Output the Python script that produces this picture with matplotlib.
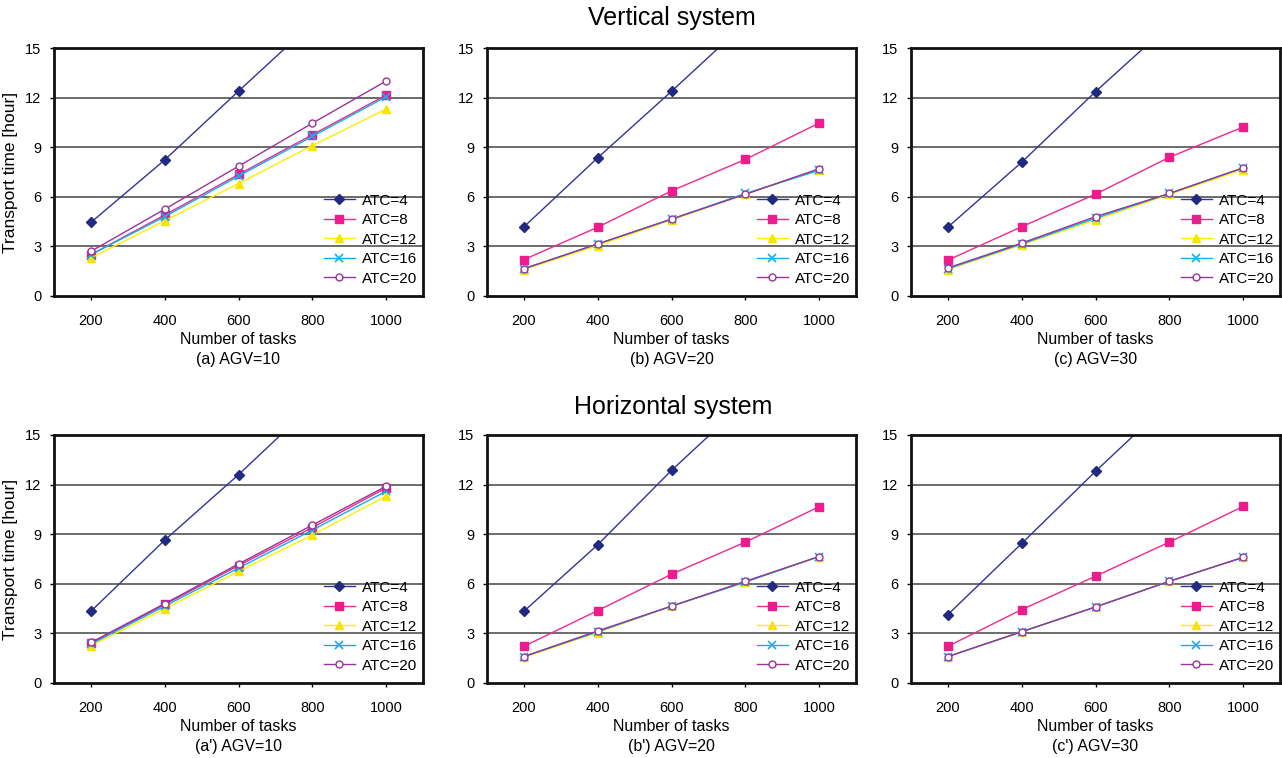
import matplotlib
matplotlib.use("Agg")
import matplotlib.pyplot as plt

plt.rcParams['font.family'] = ['Liberation Sans', 'DejaVu Sans']

# data (ATC=4 runs off the top of the axes after 600)
tasks = [200, 400, 600, 800, 1000]
atc_labels = ['ATC=4', 'ATC=8', 'ATC=12', 'ATC=16', 'ATC=20']

# vertical system
v_agv10 = [
    [4.45, 8.23, 12.39, 16.5, 20.7],
    [2.5, 4.9, 7.35, 9.75, 12.15],
    [2.3, 4.55, 6.8, 9.1, 11.3],
    [2.5, 4.8, 7.25, 9.65, 12.05],
    [2.7, 5.25, 7.85, 10.45, 13.0],
]
v_agv20 = [
    [4.18, 8.36, 12.38, 16.5, 20.6],
    [2.2, 4.16, 6.36, 8.26, 10.46],
    [1.6, 3.05, 4.6, 6.15, 7.65],
    [1.65, 3.15, 4.65, 6.2, 7.6],
    [1.65, 3.15, 4.65, 6.15, 7.7],
]
v_agv30 = [
    [4.17, 8.09, 12.36, 16.4, 20.5],
    [2.17, 4.19, 6.16, 8.39, 10.22],
    [1.6, 3.1, 4.6, 6.15, 7.65],
    [1.65, 3.15, 4.7, 6.2, 7.75],
    [1.7, 3.2, 4.8, 6.2, 7.75],
]
# horizontal system
h_agv10 = [
    [4.34, 8.64, 12.6, 16.8, 21.0],
    [2.4, 4.75, 7.1, 9.4, 11.8],
    [2.25, 4.5, 6.75, 8.95, 11.3],
    [2.35, 4.65, 6.95, 9.25, 11.6],
    [2.45, 4.8, 7.2, 9.55, 11.9],
]
h_agv20 = [
    [4.34, 8.36, 12.86, 17.0, 21.0],
    [2.22, 4.38, 6.58, 8.52, 10.66],
    [1.55, 3.05, 4.65, 6.1, 7.65],
    [1.6, 3.1, 4.65, 6.1, 7.65],
    [1.6, 3.15, 4.65, 6.15, 7.65],
]
h_agv30 = [
    [4.14, 8.44, 12.8, 17.0, 21.0],
    [2.22, 4.44, 6.46, 8.52, 10.68],
    [1.6, 3.1, 4.6, 6.15, 7.6],
    [1.6, 3.1, 4.6, 6.15, 7.6],
    [1.6, 3.1, 4.6, 6.15, 7.6],
]

captions = ['(a) AGV=10', '(b) AGV=20', '(c) AGV=30',
            "(a') AGV=10", "(b') AGV=20", "(c') AGV=30"]
panels = [v_agv10, v_agv20, v_agv30, h_agv10, h_agv20, h_agv30]

# line style per ATC series
styles = [
    dict(color='#333399', marker='D', mfc='#1f2a80', mec='#1f2a80', ms=5),
    dict(color='#ee2a8c', marker='s', mfc='#ee1b8c', mec='#ee1b8c', ms=5.5),
    dict(color='#ffee00', marker='^', mfc='#f5e600', mec='#f5e600', ms=6),
    dict(color='#10b0ee', marker='x', mfc='#10b0ee', mec='#10b0ee', ms=6, mew=1.2),
    dict(color='#993399', marker='o', mfc='white', mec='#993399', ms=5, mew=1),
]

W, H = 1282, 758
fig = plt.figure(figsize=(W / 100, H / 100), dpi=100)

lefts = [54, 487, 911]
tops = [48, 435]
aw, ah = 369, 248

for i, data in enumerate(panels):
    r, c = divmod(i, 3)
    ax = fig.add_axes([lefts[c] / W, (H - tops[r] - ah) / H, aw / W, ah / H])
    for k in range(len(atc_labels)):
        ax.plot(tasks, data[k], lw=1, label=atc_labels[k], **styles[k])

    ax.set_xlim(100, 1100)
    ax.set_ylim(0, 15)
    ax.set_xticks(tasks)
    ax.set_yticks([0, 3, 6, 9, 12, 15])
    ax.tick_params(axis='both', labelsize=10.5, length=3, width=1, direction='out')
    ax.tick_params(axis='x', pad=10)
    ax.tick_params(axis='y', pad=6)
    for y in [3, 6, 9, 12]:
        ax.axhline(y, color='#444444', lw=1.1, zorder=0)
    for sp in ax.spines.values():
        sp.set_linewidth(2)
        sp.set_color('#111111')

    ax.set_xlabel('Number of tasks\n' + captions[i], fontsize=11.5, labelpad=3,
                  linespacing=1.4)
    if c == 0:
        ax.set_ylabel('Transport time [hour]', fontsize=12.5, labelpad=5)

    ax.legend(loc='lower right', bbox_to_anchor=(1.01, 0.005), frameon=False,
              fontsize=11, handlelength=2.0, handletextpad=0.5,
              labelspacing=0.36, borderaxespad=0.2)

fig.text(672 / W, 1 - 18 / H, 'Vertical system', ha='center', va='center', fontsize=18)
fig.text(673 / W, 1 - 407 / H, 'Horizontal system', ha='center', va='center', fontsize=18)

fig.savefig('out.png', dpi=100)
